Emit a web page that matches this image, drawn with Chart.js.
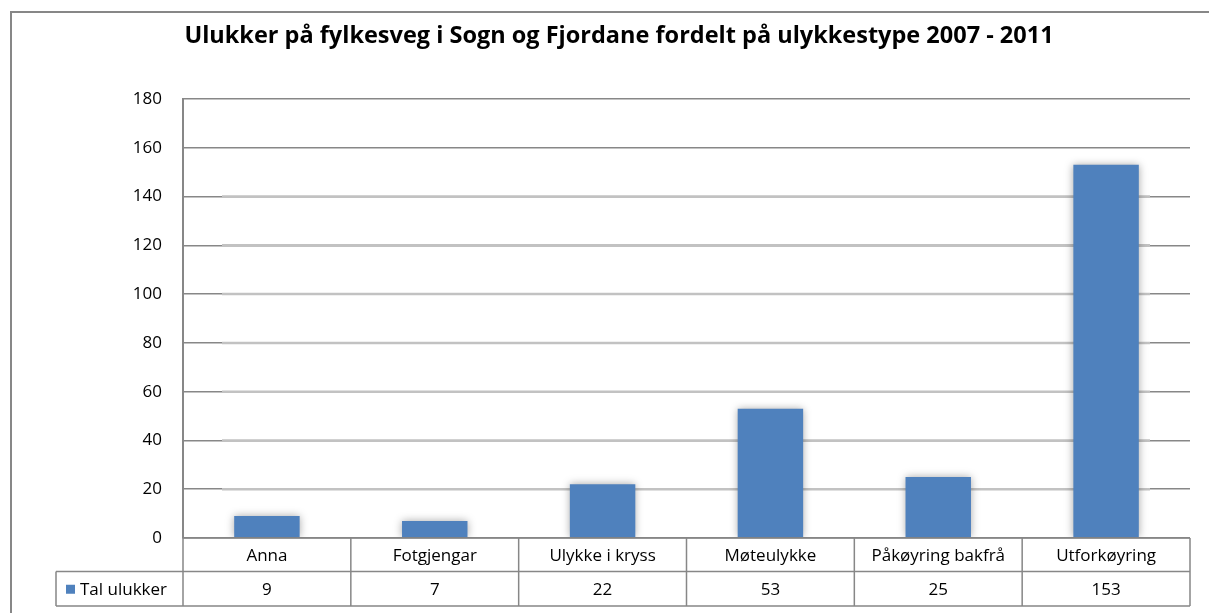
<!DOCTYPE html>
<html lang="nn">
<head>
    <meta charset="UTF-8">
    <title>Ulukker på fylkesveg i Sogn og Fjordane</title>
    <script src="https://cdn.jsdelivr.net/npm/chart.js"></script>
    <style>
        html, body {
            margin: 0;
            padding: 0;
            background: #fff;
        }

        #wrap {
            width: 1209px;
            height: 613px;
        }
    </style>
</head>
<body>
    <div id="wrap">
        <canvas id="accidentChart" width="1209" height="613"></canvas>
    </div>

    <script>
        const chartTitle = 'Ulukker på fylkesveg i Sogn og Fjordane fordelt på ulykkestype 2007 - 2011';
        const categories = ['Anna', 'Fotgjengar', 'Ulykke i kryss', 'Møteulykke', 'Påkøyring bakfrå', 'Utforkøyring'];
        const seriesName = 'Tal ulukker';
        const accidents = [9, 7, 22, 53, 25, 153];
        const yMin = 0;
        const yMax = 180;
        const yStep = 20;

        const barColor = '#4F81BD';
        const lineColor = '#878787';
        const textFont = '"Open Sans", sans-serif';

        // frame + title
        const framePlugin = {
            id: 'frame',
            beforeDraw(chart) {
                const ctx = chart.ctx;
                ctx.save();
                ctx.fillStyle = '#fff';
                ctx.fillRect(0, 0, chart.width, chart.height);
                ctx.strokeStyle = lineColor;
                ctx.lineWidth = 2;
                ctx.beginPath();
                ctx.moveTo(11, chart.height);
                ctx.lineTo(11, 12);
                ctx.lineTo(chart.width, 12);
                ctx.stroke();

                ctx.fillStyle = '#000';
                ctx.font = 'bold 23.5px ' + textFont;
                ctx.textAlign = 'center';
                ctx.textBaseline = 'alphabetic';
                ctx.fillText(chartTitle, 619, 43);
                ctx.restore();
            }
        };

        // lighter grid segments + soft shadow on the columns
        const shadowPlugin = {
            id: 'barShadow',
            beforeDatasetsDraw(chart) {
                const ctx = chart.ctx;
                const area = chart.chartArea;
                const y = chart.scales.y;
                ctx.save();
                ctx.strokeStyle = '#c2c2c2';
                ctx.lineWidth = 2.5;
                y.ticks.slice(1, -2).forEach(t => {
                    const py = y.getPixelForValue(t.value);
                    ctx.beginPath();
                    ctx.moveTo(area.left + 39, py);
                    ctx.lineTo(area.right - 40, py);
                    ctx.stroke();
                });
                ctx.restore();

                ctx.save();
                ctx.shadowColor = 'rgba(0, 0, 0, 0.35)';
                ctx.shadowBlur = 8;
            },
            afterDatasetsDraw(chart) {
                chart.ctx.restore();
            }
        };

        // data table under the plot
        const tablePlugin = {
            id: 'dataTable',
            afterDraw(chart) {
                const ctx = chart.ctx;
                const area = chart.chartArea;
                const x = chart.scales.x;
                const catW = (area.right - area.left) / categories.length;
                const top = area.bottom;
                const mid = top + 33.5;
                const bottom = top + 68;
                const legendLeft = 56;

                ctx.save();
                ctx.strokeStyle = lineColor;
                ctx.lineWidth = 1.5;
                ctx.beginPath();
                ctx.moveTo(area.left, top);
                ctx.lineTo(area.right, top);
                ctx.moveTo(legendLeft, mid);
                ctx.lineTo(area.right, mid);
                ctx.moveTo(legendLeft, bottom);
                ctx.lineTo(area.right, bottom);
                ctx.moveTo(legendLeft, mid);
                ctx.lineTo(legendLeft, bottom);
                for (let i = 0; i <= categories.length; i++) {
                    const px = area.left + i * catW;
                    ctx.moveTo(px, top);
                    ctx.lineTo(px, bottom);
                }
                ctx.stroke();

                ctx.fillStyle = '#000';
                ctx.font = '17px ' + textFont;
                ctx.textAlign = 'center';
                ctx.textBaseline = 'middle';
                categories.forEach((c, i) => {
                    const px = x.getPixelForValue(i);
                    ctx.fillText(c, px, (top + mid) / 2 + 1);
                    ctx.fillText(String(accidents[i]), px, (mid + bottom) / 2 + 1);
                });

                ctx.fillStyle = barColor;
                ctx.fillRect(66, (mid + bottom) / 2 - 4, 9, 9);
                ctx.fillStyle = '#000';
                ctx.textAlign = 'left';
                ctx.fillText(seriesName, 80, (mid + bottom) / 2 + 1);
                ctx.restore();
            }
        };

        const ctx = document.getElementById('accidentChart').getContext('2d');
        const accidentChart = new Chart(ctx, {
            type: 'bar',
            data: {
                labels: categories,
                datasets: [
                    {
                        label: seriesName,
                        data: accidents,
                        backgroundColor: barColor,
                        borderWidth: 0,
                        categoryPercentage: 1,
                        barPercentage: 0.39
                    }
                ]
            },
            options: {
                responsive: false,
                animation: false,
                layout: {
                    padding: { left: 0, right: 19, top: 99, bottom: 75 }
                },
                plugins: {
                    legend: { display: false },
                    title: { display: false },
                    tooltip: { enabled: false }
                },
                scales: {
                    x: {
                        display: false
                    },
                    y: {
                        min: yMin,
                        max: yMax,
                        afterFit(scale) {
                            scale.width = 183;
                        },
                        ticks: {
                            stepSize: yStep,
                            color: '#000',
                            padding: 21,
                            font: { family: textFont, size: 17 }
                        },
                        grid: {
                            color: lineColor,
                            lineWidth: 1.5,
                            drawTicks: false
                        },
                        border: {
                            color: lineColor,
                            width: 2
                        }
                    }
                }
            },
            plugins: [framePlugin, shadowPlugin, tablePlugin]
        });
    </script>
</body>
</html>
